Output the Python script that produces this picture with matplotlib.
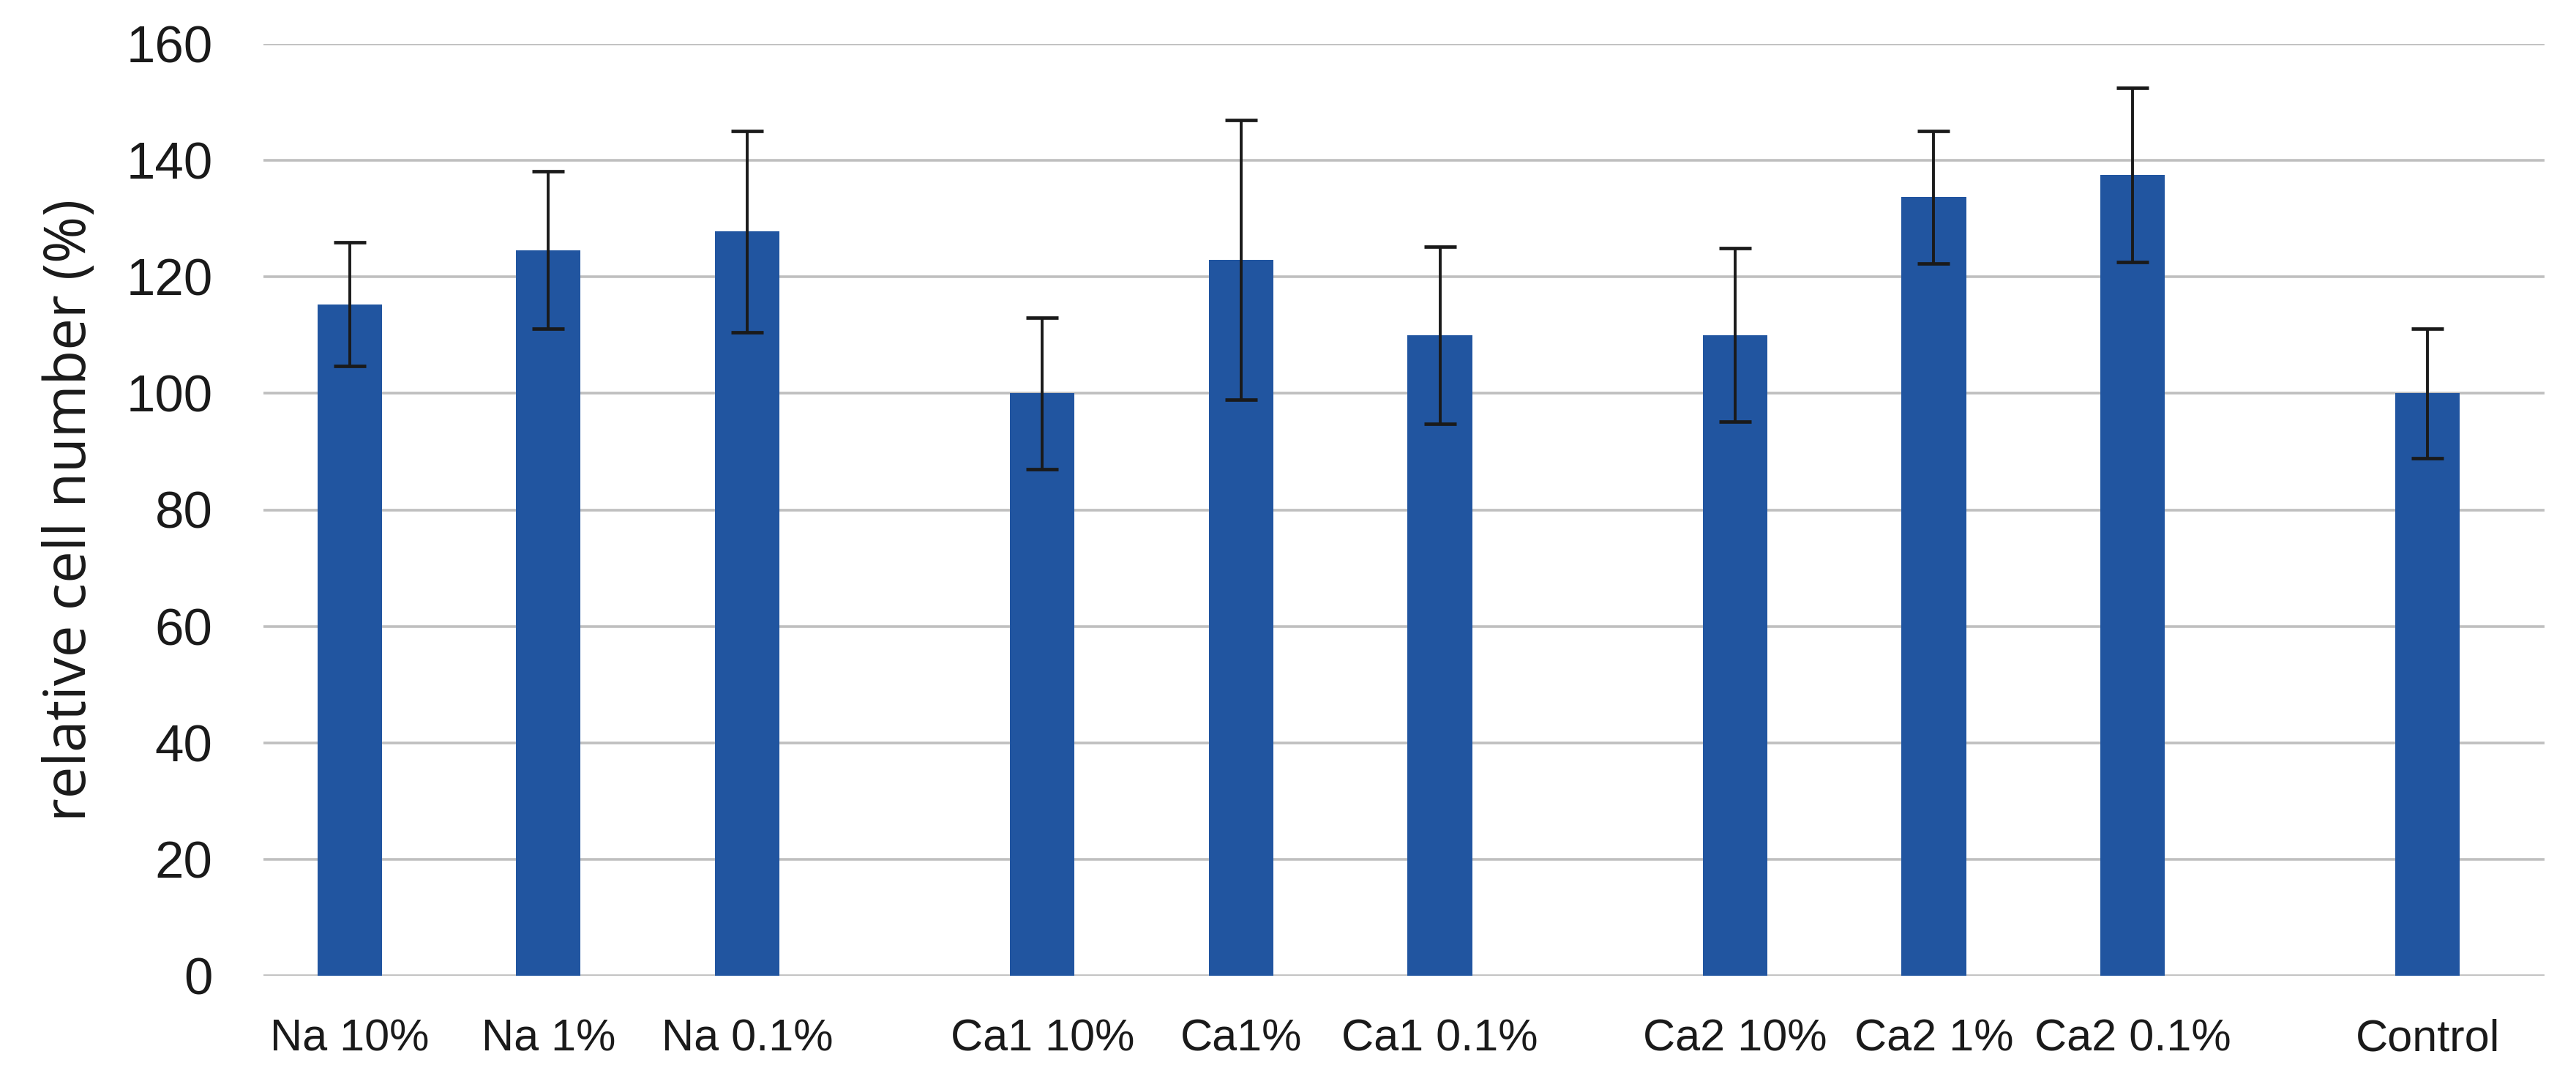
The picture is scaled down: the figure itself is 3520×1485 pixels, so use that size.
import matplotlib
matplotlib.use("Agg")
import matplotlib.pyplot as plt

labels = ["Na 10%", "Na 1%", "Na 0.1%", "Ca1 10%", "Ca1%", "Ca1 0.1%",
          "Ca2 10%", "Ca2 1%", "Ca2 0.1%", "Control"]
groups = ["Na", "Na", "Na", "Ca1", "Ca1", "Ca1", "Ca2", "Ca2", "Ca2", "Control"]
values = [115.3, 124.6, 127.8, 100.0, 122.9, 110.0, 110.0, 133.7, 137.5, 100.0]
errors = [10.6, 13.5, 17.3, 13.0, 24.0, 15.2, 14.9, 11.4, 14.9, 11.1]
y_ticks = [0, 20, 40, 60, 80, 100, 120, 140, 160]
y_label = "relative cell number (%)"

# layout: bars sit in groups, with a wider gap between groups
offset = 0.42
group_step = 3.38
bar_step = 0.97
bar_width = 0.315
x_max = 11.13

group_names = list(dict.fromkeys(groups))
positions = []
for name in groups:
    g = group_names.index(name)
    j = groups[:len(positions)].count(name)
    positions.append(offset + g * group_step + j * bar_step)

W, H = 3520, 1485
fig = plt.figure(figsize=(W / 100, H / 100), dpi=100)
ax = fig.add_axes([360 / W, 1 - 1333 / H, (3477 - 360) / W, (1333 - 60) / H])

ax.bar(positions, values, width=bar_width, color="#2155a0", zorder=2)
ax.errorbar(positions, values, yerr=errors, fmt="none", ecolor="#1a1a1a",
            elinewidth=2.8, capsize=16, capthick=3.4, zorder=3)

ax.set_xlim(0, x_max)
ax.set_ylim(0, 160)
ax.set_yticks(y_ticks)
ax.set_xticks(positions)
ax.set_xticklabels(labels, family=["Liberation Sans", "DejaVu Sans"], fontsize=44,
                   color="#1a1a1a")
ax.set_yticklabels([str(t) for t in y_ticks], family=["Liberation Sans", "DejaVu Sans"],
                   fontsize=51, color="#1a1a1a")

ax.yaxis.grid(True, color="#bfbfbf", linewidth=2.6)
ax.set_axisbelow(True)
for spine in ax.spines.values():
    spine.set_visible(False)
ax.tick_params(axis="both", length=0)
ax.tick_params(axis="y", pad=50)
ax.tick_params(axis="x", pad=42)

ax.set_ylabel(y_label, family=["Open Sans", "DejaVu Sans"], fontsize=56, color="#1a1a1a")
ax.yaxis.set_label_coords(-0.072, 0.5)

fig.savefig("out.png", dpi=100, facecolor="white")
